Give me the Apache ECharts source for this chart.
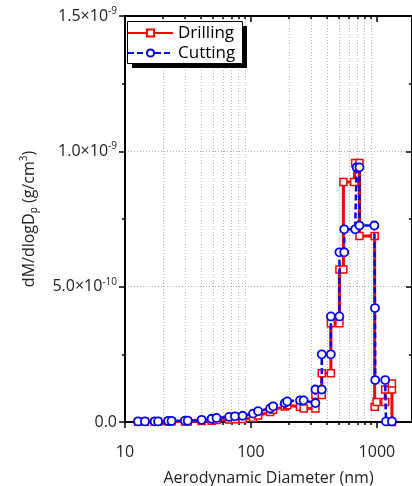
<!DOCTYPE html>
<html>
<head>
<meta charset="utf-8">
<script src="https://cdn.jsdelivr.net/npm/echarts@6/dist/echarts.min.js"></script>
<style>
  html, body { margin: 0; padding: 0; background: #fff; }
  #chart { width: 412px; height: 486px; }
</style>
</head>
<body>
<div id="chart"></div>
<script>
// particle size (nm) and dM/dlogDp (g/cm3)
const drillingD = [12.7, 14.4, 17.2, 18.3, 22.0, 23.4, 29.9, 31.5, 40.6, 48.7, 53.3, 67.1, 74.6, 85.9,
  104, 114, 142, 150, 186, 194, 245, 262, 325, 325, 365, 365, 431, 431, 504, 504, 542, 542, 660, 672,
  727, 727, 960, 960, 995, 1164, 1164, 1316, 1316, 1316];
const drillingM = [1e-12, 1e-12, 1e-12, 1e-12, 2e-12, 2e-12, 2e-12, 2e-12, 4e-12, 5e-12, 7e-12, 9e-12, 1.0e-11, 1.1e-11,
  1.6e-11, 2.4e-11, 3.7e-11, 4.5e-11, 5.7e-11, 6.2e-11, 5.6e-11, 5.0e-11, 5.0e-11, 1.0e-10, 1.0e-10, 1.8e-10, 1.8e-10, 3.65e-10, 3.65e-10, 5.63e-10, 5.63e-10, 8.87e-10, 8.87e-10, 9.57e-10,
  9.57e-10, 6.87e-10, 6.87e-10, 5.6e-11, 7.4e-11, 7.4e-11, 1.2e-10, 1.2e-10, 1.42e-10, 0];

const cuttingD = [12.7, 14.4, 17.2, 18.3, 22.0, 23.4, 29.9, 31.5, 40.6, 48.7, 53.3, 67.1, 74.6, 85.9,
  104, 114, 142, 150, 186, 194, 245, 262, 325, 325, 365, 365, 431, 431, 504, 504, 550, 550, 672, 690,
  727, 727, 955, 965, 970, 1164, 1180, 1316];
const cuttingM = [2e-12, 2e-12, 2e-12, 2e-12, 4e-12, 4e-12, 5e-12, 5e-12, 8e-12, 1.2e-11, 1.5e-11, 1.9e-11, 2.1e-11, 2.3e-11,
  3.1e-11, 4.0e-11, 5.0e-11, 5.8e-11, 7.0e-11, 7.6e-11, 8.0e-11, 8.0e-11, 7.0e-11, 1.2e-10, 1.2e-10, 2.5e-10, 2.5e-10, 3.9e-10, 3.9e-10, 6.27e-10, 6.27e-10, 7.12e-10, 7.12e-10, 9.41e-10,
  9.41e-10, 7.26e-10, 7.26e-10, 4.21e-10, 1.55e-10, 1.55e-10, 2e-12, 2e-12];

const xMajorTicks = [10, 100, 1000];
const xMinorTicks = [20, 30, 40, 50, 60, 70, 80, 90, 200, 300, 400, 500, 600, 700, 800, 900];

const font = "Open Sans";

const myChart = echarts.init(document.getElementById("chart"), null, { renderer: "canvas" });

function zip(xs, ys) {
  return xs.map((x, i) => [x, ys[i]]);
}

// 1.5x10^-9 style labels
function sciLabel(v) {
  if (v === 0) return "{a|0.0}";
  const e = Math.floor(Math.log10(v) + 1e-9);
  const m = v / Math.pow(10, e);
  return "{a|" + m.toFixed(1) + "×10}{s|" + e + "}";
}

const xBase = { type: "log", logBase: 10, min: 10, max: 1900, gridIndex: 0 };

function xAxisDef(opts) {
  return Object.assign({}, xBase, {
    axisLine: { show: true, lineStyle: { color: "#000", width: 2 } },
    axisLabel: { show: false },
    splitLine: { show: false },
    minorTick: { show: false }
  }, opts);
}

const option = {
  animation: false,
  backgroundColor: "#fff",
  textStyle: { fontFamily: font },
  grid: { left: 125, right: 0, top: 16, bottom: 64, containLabel: false, outerBoundsMode: "none" },
  // legend frame with its solid drop shadow
  graphic: [
    { type: "rect", left: 132, top: 26, z: 10, shape: { width: 115, height: 42 }, style: { fill: "#000" } },
    { type: "rect", left: 127, top: 21, z: 11, shape: { width: 115, height: 42 }, style: { fill: "#fff", stroke: "#000", lineWidth: 1 } }
  ],
  legend: {
    data: ["Drilling", "Cutting"],
    orient: "vertical",
    left: 127,
    top: 23,
    z: 20,
    itemWidth: 45,
    itemHeight: 9,
    itemGap: 0,
    padding: 0,
    textStyle: { fontFamily: font, fontSize: 17, color: "#000", lineHeight: 20 }
  },
  xAxis: [
    xAxisDef({
      position: "bottom",
      axisTick: { show: true, inside: false, length: 6, customValues: xMajorTicks, lineStyle: { color: "#000", width: 1.5 } },
      axisLabel: {
        show: true, customValues: xMajorTicks, margin: 22,
        fontFamily: font, fontSize: 16, color: "#222",
        formatter: v => String(Math.round(v))
      },
      name: "Aerodynamic Diameter (nm)",
      nameLocation: "middle",
      nameGap: 48,
      nameTextStyle: { fontFamily: font, fontSize: 16, color: "#222" }
    }),
    xAxisDef({
      position: "bottom",
      axisTick: { show: true, inside: false, length: 3, customValues: xMinorTicks, lineStyle: { color: "#000", width: 1.5 } },
      splitLine: { show: true, lineStyle: { color: "#b0b0b0", width: 1, type: [1, 2] } }
    }),
    xAxisDef({
      position: "top",
      axisTick: { show: true, inside: true, length: 6, customValues: xMajorTicks, lineStyle: { color: "#000", width: 1.5 } }
    }),
    xAxisDef({
      position: "top",
      axisTick: { show: true, inside: true, length: 3, customValues: xMinorTicks, lineStyle: { color: "#000", width: 1.5 } }
    })
  ],
  yAxis: [
    {
      type: "value",
      position: "left",
      min: 0,
      max: 1.5e-9,
      interval: 5e-10,
      axisLine: { show: true, lineStyle: { color: "#000", width: 2 } },
      axisTick: { show: true, inside: false, length: 6, lineStyle: { color: "#000", width: 1.5 } },
      minorTick: { show: true, splitNumber: 2, length: 3, lineStyle: { color: "#000", width: 1.5 } },
      splitLine: { show: true, lineStyle: { color: "#b0b0b0", width: 1, type: [1, 2] } },
      axisLabel: {
        margin: 8,
        formatter: sciLabel,
        rich: {
          a: { fontFamily: font, fontSize: 16, color: "#222", lineHeight: 20 },
          s: { fontFamily: font, fontSize: 10, color: "#222", verticalAlign: "top", lineHeight: 10 }
        }
      },
      name: "{a|dM/dlogD}{b|p}{a| (g/cm}{c|3}{a|)}",
      nameLocation: "middle",
      nameGap: 86,
      nameTextStyle: {
        rich: {
          a: { fontFamily: font, fontSize: 16, color: "#222", lineHeight: 20 },
          b: { fontFamily: font, fontSize: 10, color: "#222", verticalAlign: "bottom", lineHeight: 10 },
          c: { fontFamily: font, fontSize: 10, color: "#222", verticalAlign: "top", lineHeight: 10 }
        }
      }
    },
    {
      type: "value",
      position: "right",
      min: 0,
      max: 1.5e-9,
      interval: 5e-10,
      axisLine: { show: true, lineStyle: { color: "#000", width: 2 } },
      axisTick: { show: true, inside: true, length: 6, lineStyle: { color: "#000", width: 1.5 } },
      minorTick: { show: true, splitNumber: 2, length: 3, lineStyle: { color: "#000", width: 1.5 } },
      axisLabel: { show: false },
      splitLine: { show: false }
    }
  ],
  series: [
    {
      name: "Drilling",
      type: "line",
      xAxisIndex: 0,
      yAxisIndex: 0,
      data: zip(drillingD, drillingM),
      symbol: "rect",
      symbolSize: 7,
      showAllSymbol: true,
      clip: false,
      lineStyle: { color: "#ff0000", width: 3 },
      itemStyle: { color: "#fff", borderColor: "#ff0000", borderWidth: 1.5 },
      z: 2
    },
    {
      name: "Cutting",
      type: "line",
      xAxisIndex: 0,
      yAxisIndex: 0,
      data: zip(cuttingD, cuttingM),
      symbol: "circle",
      symbolSize: 8,
      showAllSymbol: true,
      clip: false,
      lineStyle: { color: "#0000ff", width: 2.5, type: [6, 3] },
      itemStyle: { color: "#fff", borderColor: "#0000ff", borderWidth: 1.8 },
      z: 3
    }
  ]
};

myChart.setOption(option);
</script>
</body>
</html>
